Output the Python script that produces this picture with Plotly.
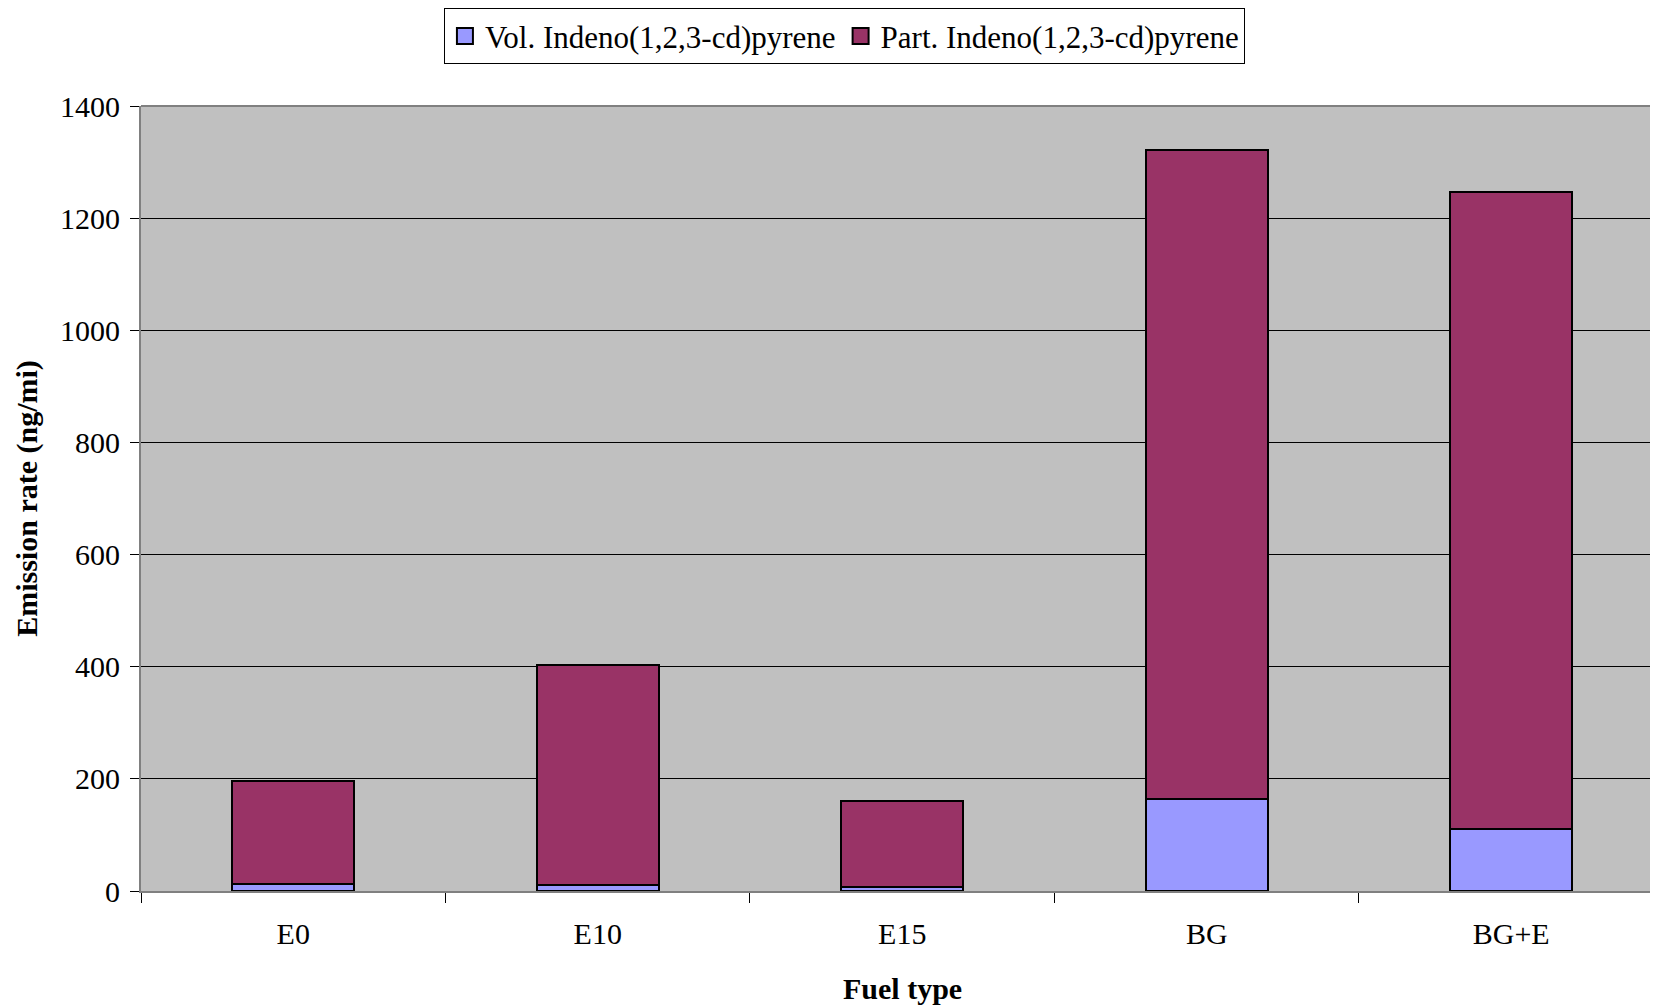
import plotly.graph_objects as go

categories = ["E0", "E10", "E15", "BG", "BG+E"]
vol_values = [12, 10, 7, 164, 111]
part_values = [184, 393, 153, 1157, 1136]
y_ticks = [0, 200, 400, 600, 800, 1000, 1200, 1400]
series_names = ["Vol. Indeno(1,2,3-cd)pyrene", "Part. Indeno(1,2,3-cd)pyrene"]
series_colors = ["#9999FF", "#993366"]

FONT = "Liberation Serif, Times New Roman, serif"

fig = go.Figure()
for vals, name, col in zip([vol_values, part_values], series_names, series_colors):
    fig.add_trace(go.Bar(
        x=categories, y=vals, name=name, showlegend=False,
        marker=dict(color=col, line=dict(color="black", width=2)), width=0.4,
    ))
# legend entries with larger square swatches
for name, col in zip(series_names, series_colors):
    fig.add_trace(go.Scatter(
        x=[None], y=[None], mode="markers", name=name, showlegend=True,
        marker=dict(symbol="square", size=18, color=col, line=dict(color="black", width=2)),
    ))

fig.update_layout(
    barmode="stack",
    width=1650, height=999,
    margin=dict(l=133, r=0, t=98, b=116),
    paper_bgcolor="white",
    plot_bgcolor="#C0C0C0",
    font=dict(family=FONT, size=30, color="black"),
    showlegend=True,
    legend=dict(
        orientation="h", x=0.4637, xanchor="center", y=1.1245, yanchor="top",
        bgcolor="white", bordercolor="black", borderwidth=1,
        font=dict(family=FONT, size=31, color="black"),
        itemwidth=30, traceorder="normal",
    ),
    xaxis=dict(
        type="category", range=[-0.5, 4.482],
        ticks="outside", tickson="boundaries", ticklen=10, tickcolor="black", tickwidth=1,
        ticklabelstandoff=15,
        showline=True, linecolor="#808080", linewidth=2,
        showgrid=False, automargin=False,
    ),
    yaxis=dict(
        range=[0, 1400], tickvals=y_ticks,
        title=dict(text="<b>Emission rate (ng/mi)</b>", font=dict(family=FONT, size=30), standoff=14),
        ticks="outside", ticklen=9, tickcolor="black", tickwidth=1,
        ticklabelstandoff=4,
        showline=True, linecolor="#808080", linewidth=2,
        showgrid=True, gridcolor="black", gridwidth=1,
        zeroline=False, automargin=False,
    ),
)
# x-axis title
fig.add_annotation(
    text="<b>Fuel type</b>", xref="paper", yref="paper", x=0.5017, y=0,
    xanchor="center", yanchor="middle", yshift=-97, showarrow=False,
    font=dict(family=FONT, size=30, color="black"),
)
fig.add_shape(type="line", xref="paper", yref="paper", x0=0, x1=1, y0=1, y1=1,
              line=dict(color="#808080", width=2))

fig.write_html("out.html")
